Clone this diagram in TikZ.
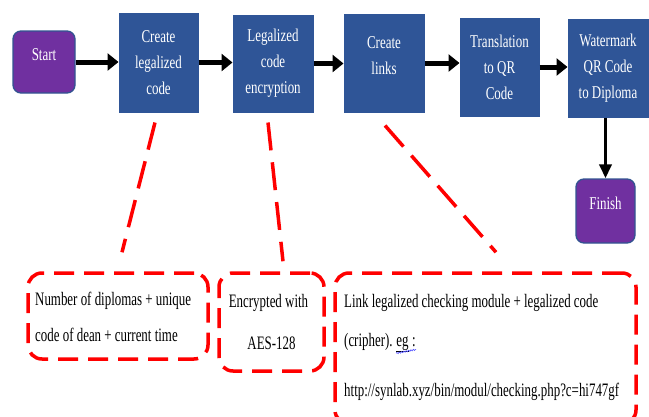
\documentclass[tikz,border=0pt]{standalone}
\usepackage{fontspec}
\usepackage{tikz}
\usetikzlibrary{arrows.meta, decorations.pathmorphing}
\newfontfamily\diafont[FakeStretch=0.72]{Liberation Serif}
\newfontfamily\notefont[FakeStretch=0.68]{Liberation Serif}
\definecolor{stepblue}{RGB}{47,85,151}
\definecolor{termpurple}{RGB}{112,48,160}
\definecolor{termedge}{RGB}{50,84,145}

\begin{document}
\begin{tikzpicture}[x=1pt, y=-1pt,
    stepbox/.style={draw=stepblue, fill=stepblue, line width=1pt, text=white, align=center, inner sep=0pt, font=\diafont\fontsize{18}{26}\selectfont},
    term/.style={draw=termedge, fill=termpurple, line width=1.3pt, rounded corners=8pt, text=white, inner sep=0pt, font=\diafont\fontsize{18}{26}\selectfont},
    note/.style={draw=red, line width=3.5pt, dash pattern=on 20pt off 10pt, rounded corners=14pt, inner sep=0pt, font=\notefont\fontsize{19}{36}\selectfont},
    noteline/.style={anchor=base west, inner sep=0pt, font=\notefont\fontsize{19}{36}\selectfont},
    flow/.style={-{Triangle[length=11pt, width=17pt]}, line width=5pt},
    flowdown/.style={-{Triangle[length=14pt, width=12pt]}, line width=3.5pt},
    link/.style={red, line width=3.5pt, dash pattern=on 28pt off 12pt},
    wave/.style={blue!70, line width=0.6pt, decorate, decoration={snake, amplitude=0.7pt, segment length=2.4pt}}
]
    \clip (0,0) rectangle (649,416);
    \useasboundingbox (0,0) rectangle (649,416);

    % Terminals
    \node[term, minimum width=62pt, minimum height=62pt, text depth=14pt] (start) at (44,62) {Start};
    \node[term, minimum width=59pt, minimum height=64pt, text depth=16pt] (finish) at (605.5,211) {Finish};

    % Process steps
    \node[stepbox, minimum width=79pt, minimum height=99pt] (mkcode) at (158.5,62.5) {Create\\legalized\\code};
    \node[stepbox, minimum width=80pt, minimum height=97pt] (encrypt) at (273,63.5) {Legalized\\code\\encryption};
    \node[stepbox, minimum width=80pt, minimum height=98pt, text depth=14pt] (mklinks) at (384,63) {Create\\links};
    \node[stepbox, minimum width=79pt, minimum height=98pt] (toqr) at (499.5,67) {Translation\\to QR\\Code};
    \node[stepbox, minimum width=80pt, minimum height=98pt] (watermark) at (608,68) {Watermark\\QR Code\\to Diploma};

    % Notes
    \node[note, minimum width=180pt, minimum height=86pt] (notecode) at (118,316) {};
    \node[noteline] (codeone) at (35,305) {Number of diplomas + unique};
    \node[noteline] (codetwo) at (35,341) {code of dean + current time};
    \node[note, minimum width=105pt, minimum height=98pt, align=center] (noteaes) at (271.5,322) {\hspace*{-6pt}Encrypted with\\[6pt]AES-128};
    \node[note, minimum width=301pt, minimum height=151pt] (notelink) at (485.5,348.5) {};
    \node[noteline] (linkone) at (344,307) {Link legalized checking module + legalized code};
    \node[noteline] (linktwo) at (344,346) {(cripher).};
    \node[noteline, xshift=3.3pt] (egword) at (linktwo.base east) {eg};
    \node[noteline, xshift=3.3pt] (egcolon) at (egword.base east) {:};
    \node[noteline] (linkurl) at (344,396) {http://synlab.xyz/bin/modul/checking.php?c=hi747gf};

    % underline of eg
    \draw[line width=0.7pt] ([yshift=-0.8pt]egword.south west) -- ([yshift=-0.8pt]egword.south east);
    \draw[wave] ([yshift=-3pt]egword.south west) -- ([yshift=-3pt]egcolon.south east);

    % Flow arrows
    \draw[flow] (start.east) -- (start.east -| mkcode.west);
    \draw[flow] (mkcode.east) -- (mkcode.east -| encrypt.west);
    \draw[flow] (encrypt.east) -- (encrypt.east -| mklinks.west);
    \draw[flow] (mklinks.east) -- (mklinks.east -| toqr.west);
    \draw[flow] (toqr.east) -- (toqr.east -| watermark.west);
    \draw[flowdown] (finish.north |- watermark.south) -- (finish.north);

    % Dashed links to notes
    \draw[link] ([shift={(-3.5,10)}]mkcode.south) -- ([shift={(4,-19)}]notecode.north);
    \draw[link] ([shift={(-5,10)}]encrypt.south) -- ([shift={(11.5,-10)}]noteaes.north);
    \draw[link] ([shift={(1,13)}]mklinks.south) -- ([shift={(10.5,-19)}]notelink.north);
\end{tikzpicture}
\end{document}
